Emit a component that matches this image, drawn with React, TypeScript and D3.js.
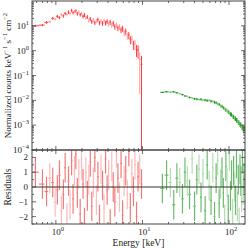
import React from "react";
import * as d3 from "d3";

// ---- data ----
const redEnergy = [0.58, 0.70, 0.78, 0.85, 0.92, 0.98, 1.04, 1.10, 1.16, 1.22, 1.28, 1.34, 1.40, 1.46, 1.52, 1.58, 1.64, 1.70, 1.77, 1.84, 1.91, 1.98, 2.06, 2.14, 2.22, 2.31, 2.40, 2.50, 2.60, 2.71, 2.82, 2.94, 3.06, 3.19, 3.32, 3.46, 3.60, 3.75, 3.91, 4.07, 4.24, 4.42, 4.60, 4.80, 5.00, 5.21, 5.43, 5.66, 5.90, 6.15, 6.41, 6.68, 6.96, 7.25, 7.55, 7.87, 8.20, 8.55, 8.90, 9.30, 9.75];
const redCounts = [10.0, 10.7, 13.8, 14.5, 20.0, 18.6, 24.0, 21.4, 28.2, 25.1, 31.6, 28.8, 35.5, 31.6, 41.7, 33.9, 38.0, 39.8, 30.9, 36.3, 28.2, 31.6, 24.0, 27.5, 21.4, 22.9, 16.6, 19.1, 14.8, 17.4, 13.5, 15.8, 17.8, 13.2, 15.5, 12.6, 16.2, 13.2, 15.1, 12.0, 14.1, 11.0, 12.6, 9.3, 11.0, 8.3, 9.3, 6.9, 7.9, 5.5, 6.0, 4.0, 4.3, 2.8, 3.0, 1.8, 1.9, 1.12, 1.05, 0.45, 0.28];
const redErrFrac = [0.10, 0.10, 0.12, 0.12, 0.13, 0.13, 0.14, 0.14, 0.15, 0.15, 0.15, 0.15, 0.16, 0.16, 0.16, 0.16, 0.16, 0.16, 0.17, 0.17, 0.17, 0.17, 0.18, 0.18, 0.18, 0.18, 0.19, 0.19, 0.19, 0.2, 0.2, 0.2, 0.2, 0.21, 0.21, 0.21, 0.22, 0.22, 0.22, 0.23, 0.23, 0.24, 0.24, 0.25, 0.25, 0.26, 0.26, 0.27, 0.28, 0.3, 0.3, 0.32, 0.33, 0.35, 0.36, 0.4, 0.42, 0.5, 0.55, 0.96, 1.2];
const redLight = [0, 0, 0, 1, 0, 1, 0, 0, 1, 0, 0, 1, 0, 1, 0, 0, 1, 0, 0, 1, 0, 1, 0, 0, 1, 0, 1, 0, 0, 1, 0, 1, 0, 0, 1, 0, 1, 0, 0, 1, 0, 1, 0, 0, 1, 0, 1, 0, 0, 1, 0, 1, 0, 0, 1, 0, 1, 0, 0, 1, 0];
const redResidual = [1.0, 0.2, -0.3, 0.6, 0.3, -1.0, -0.2, 0.8, -1.6, -0.5, 1.3, -2.1, 0.4, -1.2, 1.8, -0.8, 1.1, 2.2, -0.4, 0.9, -1.8, 1.5, 0.2, -2.4, 1.0, -0.6, 0.5, 1.7, -1.3, 0.3, 2.0, -0.9, 0.7, -2.2, 1.2, 0.1, -1.5, 1.9, -0.2, 0.8, -2.5, 1.4, 0.0, -1.0, 2.3, 0.6, -0.7, 1.6, -1.9, 0.4, 1.1, -0.5, 2.4, -1.4, 0.9, -0.3, 1.5, -2.0, 0.7, 1.2, 0.2];

const greenEnergy = [17, 19, 21, 23, 25, 27, 29, 31, 33, 35, 37.5, 40, 42.5, 45, 47.5, 50, 53, 56, 59, 62, 65, 68, 71, 74, 77, 80, 83, 86, 89, 92, 95, 98, 101, 104, 107, 110, 113, 116, 119, 122, 125, 128, 131, 134, 137, 140, 143, 146, 149];
const greenCounts = [2.1e-2, 2.2e-2, 2.15e-2, 2.2e-2, 2.0e-2, 1.85e-2, 1.7e-2, 1.5e-2, 1.45e-2, 1.3e-2, 1.25e-2, 1.15e-2, 1.12e-2, 1.08e-2, 1.1e-2, 1.02e-2, 1.03e-2, 9.8e-3, 1.0e-2, 9.3e-3, 9.2e-3, 8.4e-3, 8.0e-3, 7.3e-3, 6.9e-3, 6.0e-3, 5.8e-3, 5.0e-3, 4.7e-3, 4.1e-3, 3.9e-3, 3.4e-3, 3.2e-3, 2.8e-3, 2.7e-3, 2.3e-3, 2.2e-3, 1.9e-3, 1.85e-3, 1.6e-3, 1.55e-3, 1.3e-3, 1.28e-3, 1.1e-3, 1.02e-3, 8.8e-4, 8.2e-4, 7.0e-4, 6.4e-4];
const greenErrFrac = [0.06, 0.06, 0.06, 0.07, 0.07, 0.07, 0.08, 0.08, 0.08, 0.09, 0.09, 0.1, 0.1, 0.1, 0.11, 0.11, 0.11, 0.12, 0.12, 0.12, 0.13, 0.13, 0.13, 0.14, 0.14, 0.15, 0.15, 0.15, 0.16, 0.16, 0.17, 0.17, 0.18, 0.18, 0.19, 0.19, 0.2, 0.2, 0.21, 0.21, 0.22, 0.22, 0.23, 0.23, 0.24, 0.25, 0.25, 0.26, 0.27];
const greenLight = [0, 0, 1, 0, 0, 1, 0, 0, 1, 0, 1, 0, 0, 1, 0, 1, 0, 0, 1, 0, 1, 0, 0, 1, 0, 1, 0, 0, 1, 0, 1, 0, 1, 0, 0, 1, 0, 1, 0, 0, 1, 0, 1, 0, 0, 1, 0, 1, 0];
const greenResidual = [-0.1, 0.8, 0.3, -1.2, 0.6, 0.3, -0.8, 1.0, 0.4, -0.5, 1.9, -1.3, 0.5, 1.2, -0.7, 0.9, -1.6, 1.5, 0.1, -0.9, 1.3, -2.0, 0.6, 1.8, -1.1, 0.2, 1.0, -0.4, -2.2, 1.4, 0.3, -1.5, 2.1, -0.6, 0.8, -1.8, 1.1, 0.0, -0.9, 1.6, -1.3, 0.5, -2.4, 1.2, 0.4, -0.7, 1.9, -0.2, 0.6];

const xMajorTicks = [1, 10, 100];
const xTickExp = ["0", "1", "2"];
const yMajorTicks = [1e1, 1e0, 1e-1, 1e-2, 1e-3, 1e-4];
const yTickExp = ["1", "0", "\u22121", "\u22122", "\u22123", "\u22124"];
const resTicks = [2, 1, 0, -1, -2];
const resTickLabels = ["2", "1", "0", "\u22121", "\u22122"];

// ---- layout ----
const W = 249, H = 248;
const L = 32, R = 245, T = 1, MID = 150, B = 224;
const FONT = "'Liberation Serif', 'DejaVu Serif', serif";
const AX = "#444";

const x = d3.scaleLog().domain([0.53, 153]).range([L, R]);
const yMain = d3.scaleLog().domain([1e-4, 100]).range([MID, T]).clamp(false);
const yRes = d3.scaleLinear().domain([-2.5, 2.5]).range([B, MID]);

function edges(E: number[]) {
  return E.map((e, i) => {
    const prev = i > 0 ? E[i - 1] : e * e / E[i + 1];
    const next = i < E.length - 1 ? E[i + 1] : e * e / E[i - 1];
    return [Math.sqrt(prev * e), Math.sqrt(e * next)];
  });
}

function yM(v: number) {
  if (v <= 0) return MID + 20;
  return yMain(v);
}

function Series({ E, V, F, light, res, dark, pale, resDark, resPale }: any) {
  const ed = edges(E);
  return (
    <g>
      <g clipPath="url(#clipMain)">
        {E.map((e: number, i: number) => {
          const c = light[i] ? pale : dark;
          const lo = V[i] - V[i] * F[i];
          const hi = V[i] + V[i] * F[i];
          return (
            <g key={"m" + i} stroke={c} strokeWidth={1}>
              <line x1={x(ed[i][0])} x2={x(ed[i][1])} y1={yM(V[i])} y2={yM(V[i])} />
              <line x1={x(e)} x2={x(e)} y1={yM(lo)} y2={yM(hi)} />
            </g>
          );
        })}
      </g>
      <g clipPath="url(#clipRes)">
        {E.map((e: number, i: number) => {
          const c = light[i] ? resPale : resDark;
          return (
            <g key={"r" + i} stroke={c} strokeWidth={1.2}>
              <line x1={x(ed[i][0])} x2={x(ed[i][1])} y1={yRes(res[i])} y2={yRes(res[i])} />
              <line x1={x(e)} x2={x(e)} y1={yRes(res[i] - 1)} y2={yRes(res[i] + 1)} />
            </g>
          );
        })}
      </g>
    </g>
  );
}

function Sup({ base, exp, x: tx, y: ty, anchor }: any) {
  return (
    <text x={tx} y={ty} textAnchor={anchor} fontFamily={FONT} fontSize={9} fill="#222">
      {base}
      <tspan dy={-4} fontSize={6.5}>{exp}</tspan>
    </text>
  );
}

export default function App() {
  const minorX: number[] = [];
  for (const dec of [0.1, 1, 10, 100]) for (let k = 2; k <= 9; k++) {
    const v = dec * k;
    if (v > 0.53 && v < 153) minorX.push(v);
  }
  const minorY: number[] = [];
  for (const dec of [1e-4, 1e-3, 1e-2, 1e-1, 1, 10]) for (let k = 2; k <= 9; k++) minorY.push(dec * k);
  const minorRes = [-2.5, -1.5, -0.5, 0.5, 1.5, 2.5];

  return (
    <svg width={W} height={H} style={{ position: "absolute", left: 0, top: 0, background: "#fff" }}>
      <defs>
        <clipPath id="clipMain"><rect x={L} y={T} width={R - L} height={MID - T} /></clipPath>
        <clipPath id="clipRes"><rect x={L} y={MID} width={R - L} height={B - MID} /></clipPath>
      </defs>
      <rect width={W} height={H} fill="#fff" />

      <Series E={redEnergy} V={redCounts} F={redErrFrac} light={redLight} res={redResidual}
        dark="#ff3b3b" pale="#ff9c9c" resDark="#f47a7a" resPale="#fbbcbc" />
      <Series E={greenEnergy} V={greenCounts} F={greenErrFrac} light={greenLight} res={greenResidual}
        dark="#249a24" pale="#7cc47c" resDark="#6cbb6c" resPale="#b6dcb6" />

      {/* zero line */}
      <line x1={L} x2={R} y1={yRes(0)} y2={yRes(0)} stroke="#333" strokeWidth={1} />

      {/* frames */}
      <rect x={L} y={T} width={R - L} height={MID - T} fill="none" stroke={AX} strokeWidth={1} />
      <rect x={L} y={MID} width={R - L} height={B - MID} fill="none" stroke={AX} strokeWidth={1} />

      {/* x ticks on all horizontal edges */}
      {[[T, 1], [MID, -1], [MID, 1], [B, -1]].map(([y0, dir], j) => (
        <g key={"xt" + j} stroke={AX} strokeWidth={0.8}>
          {xMajorTicks.map((v) => (
            <line key={"M" + v} x1={x(v)} x2={x(v)} y1={y0} y2={y0 + dir * 4} />
          ))}
          {minorX.map((v) => (
            <line key={"m" + v} x1={x(v)} x2={x(v)} y1={y0} y2={y0 + dir * 2} />
          ))}
        </g>
      ))}

      {/* main y ticks */}
      {[[L, 1], [R, -1]].map(([x0, dir], j) => (
        <g key={"yt" + j} stroke={AX} strokeWidth={0.8}>
          {yMajorTicks.map((v) => (
            <line key={"M" + v} x1={x0} x2={x0 + dir * 4} y1={yMain(v)} y2={yMain(v)} />
          ))}
          {minorY.map((v) => (
            <line key={"m" + v} x1={x0} x2={x0 + dir * 2} y1={yMain(v)} y2={yMain(v)} />
          ))}
          {resTicks.map((v) => (
            <line key={"r" + v} x1={x0} x2={x0 + dir * 4} y1={yRes(v)} y2={yRes(v)} />
          ))}
          {minorRes.map((v) => (
            <line key={"rm" + v} x1={x0} x2={x0 + dir * 2} y1={yRes(v)} y2={yRes(v)} />
          ))}
        </g>
      ))}

      {/* tick labels */}
      {yMajorTicks.map((v, i) => (
        <Sup key={"yl" + i} base="10" exp={yTickExp[i]} x={29} y={yMain(v) + 3} anchor="end" />
      ))}
      {resTicks.map((v, i) => (
        <text key={"rl" + i} x={28} y={yRes(v) + 3} textAnchor="end" fontFamily={FONT} fontSize={9} fill="#222">
          {resTickLabels[i]}
        </text>
      ))}
      {xMajorTicks.map((v, i) => (
        <Sup key={"xl" + i} base="10" exp={xTickExp[i]} x={x(v) + 2} y={235} anchor="middle" />
      ))}

      {/* axis titles */}
      <text x={(L + R) / 2} y={246} textAnchor="middle" fontFamily={FONT} fontSize={9.5} fill="#222">
        Energy [keV]
      </text>
      <text transform={`translate(11,${(T + MID) / 2}) rotate(-90)`} textAnchor="middle" fontFamily={FONT} fontSize={9} fill="#222">
        Normalized counts keV
        <tspan dy={-4} fontSize={6.5}>{"\u22121"}</tspan>
        <tspan dy={4}> s</tspan>
        <tspan dy={-4} fontSize={6.5}>{"\u22121"}</tspan>
        <tspan dy={4}> cm</tspan>
        <tspan dy={-4} fontSize={6.5}>{"\u22122"}</tspan>
      </text>
      <text transform={`translate(11,${yRes(0)}) rotate(-90)`} textAnchor="middle" fontFamily={FONT} fontSize={9.5} fill="#222">
        Residuals
      </text>
    </svg>
  );
}
